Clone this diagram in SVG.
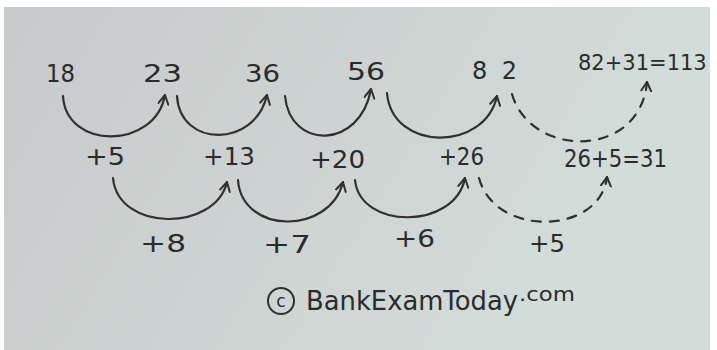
<svg xmlns="http://www.w3.org/2000/svg" width="717" height="350" viewBox="0 0 717 350">
<defs>
<linearGradient id="bg" x1="0" y1="0" x2="1" y2="0.3">
<stop offset="0" stop-color="#c7cacb"/>
<stop offset="0.5" stop-color="#cdd3d2"/>
<stop offset="1" stop-color="#d3dedb"/>
</linearGradient>
<marker id="ah" viewBox="0 0 12 12" refX="10" refY="6" markerWidth="12" markerHeight="12" markerUnits="userSpaceOnUse" orient="auto">
<path d="M1,1 L10,6 L1,11" fill="none" stroke="#2f3131" stroke-width="2" stroke-linecap="round" stroke-linejoin="round"/>
</marker>
</defs>
<style>
text{font-family:"DejaVu Sans","Liberation Sans",sans-serif;fill:#2a2c2c;font-size:24px;}
.c{fill:none;stroke:#2f3131;stroke-width:2.2;stroke-linecap:round;marker-end:url(#ah);}
.d{stroke-dasharray:9 9;}
</style>
<rect x="0" y="0" width="717" height="350" fill="#ffffff"/>
<rect x="4" y="7" width="706" height="343" fill="url(#bg)"/>

<g id="connectors">
<path class="c" d="M63,96 C66,150 155,150 165,95"/>
<path class="c" d="M177,96 C180,148 255,148 267,95"/>
<path class="c" d="M285,96 C290,150 360,150 371,89"/>
<path class="c" d="M387,93 C392,152 485,152 497,96"/>
<path class="c d" d="M512,94 C530,158 640,160 647,82"/>
<path class="c" d="M113,178 C118,232 215,232 227,182"/>
<path class="c" d="M238,180 C242,235 330,235 343,182"/>
<path class="c" d="M355,180 C360,230 455,230 465,178"/>
<path class="c d" d="M479,178 C495,238 600,235 607,177"/>
</g>

<g id="n18"><text x="46" y="82" textLength="29" lengthAdjust="spacingAndGlyphs">18</text></g>
<g id="n23"><text x="143" y="82" textLength="39" lengthAdjust="spacingAndGlyphs">23</text></g>
<g id="n36"><text x="245" y="82" textLength="35" lengthAdjust="spacingAndGlyphs">36</text></g>
<g id="n56"><text x="347" y="80" textLength="38" lengthAdjust="spacingAndGlyphs">56</text></g>
<g id="n82"><text x="472" y="79" textLength="45" lengthAdjust="spacing">8 2</text></g>
<g id="n113"><text x="578" y="70" style="font-size:21px">82+31=113</text></g>

<g id="d5"><text x="85" y="165" textLength="40" lengthAdjust="spacingAndGlyphs">+5</text></g>
<g id="d13"><text x="203" y="165" textLength="52" lengthAdjust="spacingAndGlyphs">+13</text></g>
<g id="d20"><text x="310" y="168" textLength="55" lengthAdjust="spacingAndGlyphs">+20</text></g>
<g id="d26"><text x="439" y="165" textLength="45" lengthAdjust="spacingAndGlyphs">+26</text></g>
<g id="d31"><text x="564" y="167" textLength="103" lengthAdjust="spacingAndGlyphs">26+5=31</text></g>

<g id="e8"><text x="140" y="252" textLength="46" lengthAdjust="spacingAndGlyphs">+8</text></g>
<g id="e7"><text x="263" y="253" textLength="48" lengthAdjust="spacingAndGlyphs">+7</text></g>
<g id="e6"><text x="394" y="247" textLength="41" lengthAdjust="spacingAndGlyphs">+6</text></g>
<g id="e5"><text x="529" y="252" textLength="36" lengthAdjust="spacingAndGlyphs">+5</text></g>

<g id="watermark">
<circle cx="281" cy="301" r="13" fill="none" stroke="#2f3131" stroke-width="2"/>
<text x="281" y="307" text-anchor="middle" style="font-size:17px">c</text>
<text x="306" y="310" textLength="212" lengthAdjust="spacingAndGlyphs" style="font-size:26px">BankExamToday</text>
<text x="519" y="301" textLength="56" lengthAdjust="spacingAndGlyphs" style="font-size:19px">.com</text>
</g>
</svg>
